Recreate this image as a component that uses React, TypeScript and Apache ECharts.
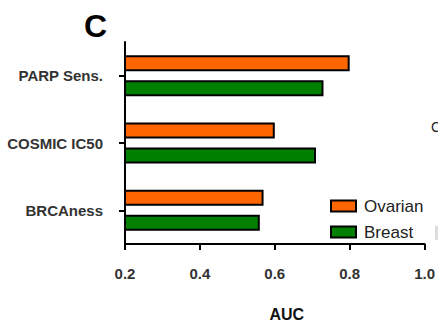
import React, { useEffect, useRef } from "react";
import * as echarts from "echarts";

const categories = ["PARP Sens.", "COSMIC IC50", "BRCAness"];
const ovarian = [0.8, 0.6, 0.57];
const breast = [0.73, 0.71, 0.56];

const FONT = "'Liberation Sans', Arial, Helvetica, sans-serif";

export default function App() {
  const ref = useRef<HTMLDivElement>(null);
  useEffect(() => {
    if (!ref.current) return;
    const chart = echarts.init(ref.current, null, { renderer: "svg" });
    chart.setOption({
      animation: false,
      backgroundColor: "#ffffff",
      textStyle: { fontFamily: FONT },
      grid: { left: 125, right: 10, top: 42, bottom: 85 },
      legend: {
        orient: "vertical",
        left: 325,
        top: 192,
        itemWidth: 25,
        itemHeight: 11,
        itemGap: 8,
        icon: "rect",
        itemStyle: { borderColor: "#000", borderWidth: 2 },
        textStyle: { fontSize: 17, lineHeight: 18, color: "#222", fontFamily: FONT, padding: [0, 0, 0, 3] },
        data: ["Ovarian", "Breast"],
      },
      xAxis: {
        type: "value",
        min: 0.2,
        max: 1.0,
        interval: 0.2,
        axisLine: { show: true, lineStyle: { color: "#000", width: 2 } },
        axisTick: { show: true, length: 6, lineStyle: { color: "#000", width: 2 } },
        splitLine: { show: false },
        axisLabel: {
          margin: 22,
          fontSize: 15,
          fontWeight: "bold",
          color: "#333",
          fontFamily: FONT,
          formatter: (v: number) => v.toFixed(1),
        },
        name: "AUC",
        nameLocation: "middle",
        nameGap: 62,
        nameTextStyle: { fontSize: 16, fontWeight: "bold", color: "#111", fontFamily: FONT, padding: [0, 0, 0, 24] },
      },
      yAxis: {
        type: "category",
        data: categories,
        inverse: true,
        axisLine: { show: true, lineStyle: { color: "#000", width: 2 } },
        axisTick: { show: true, alignWithLabel: true, length: 6, lineStyle: { color: "#000", width: 2 } },
        axisLabel: { margin: 22, fontSize: 15, fontWeight: "bold", color: "#333", fontFamily: FONT },
      },
      series: [
        {
          name: "Ovarian",
          type: "bar",
          data: ovarian,
          barWidth: 16,
          barGap: "56%",
          itemStyle: { color: "#FF6600", borderColor: "#000", borderWidth: 2 },
        },
        {
          name: "Breast",
          type: "bar",
          data: breast,
          barWidth: 16,
          barGap: "56%",
          itemStyle: { color: "#008000", borderColor: "#000", borderWidth: 2 },
        },
      ],
      graphic: [
        {
          type: "text",
          left: 84,
          top: 10,
          style: { text: "C", font: `bold 32px ${FONT}`, fill: "#000" },
        },
        {
          type: "text",
          left: 431,
          top: 120,
          style: { text: "C", font: `14px ${FONT}`, fill: "#222" },
        },
        {
          type: "rect",
          shape: { x: 435, y: 226, width: 3, height: 14 },
          style: { fill: "#ddd" },
        },
      ],
    });
    return () => chart.dispose();
  }, []);
  return (
    <div
      ref={ref}
      style={{ position: "fixed", left: 0, top: 0, width: 438, height: 329 }}
    />
  );
}
